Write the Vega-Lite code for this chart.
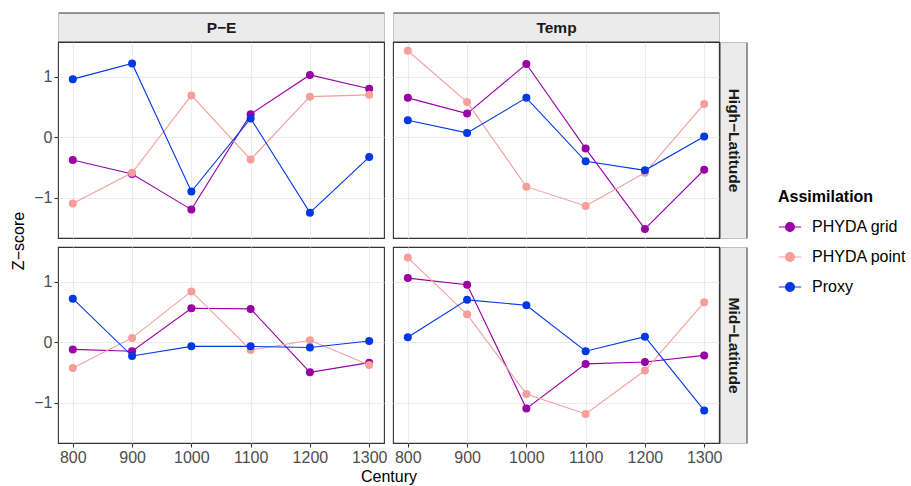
{
  "$schema": "https://vega.github.io/schema/vega-lite/v6.json",
  "padding": {"left": 10, "top": 19, "right": 5, "bottom": 0},
  "background": "white",
  "datasets": {
    "zs": [
      {"variable": "PE", "region": "High", "century": 800, "assimilation": "PHYDA grid", "z": -0.38},
      {"variable": "PE", "region": "High", "century": 900, "assimilation": "PHYDA grid", "z": -0.61},
      {"variable": "PE", "region": "High", "century": 1000, "assimilation": "PHYDA grid", "z": -1.2},
      {"variable": "PE", "region": "High", "century": 1100, "assimilation": "PHYDA grid", "z": 0.38},
      {"variable": "PE", "region": "High", "century": 1200, "assimilation": "PHYDA grid", "z": 1.03},
      {"variable": "PE", "region": "High", "century": 1300, "assimilation": "PHYDA grid", "z": 0.8},
      {"variable": "PE", "region": "High", "century": 800, "assimilation": "PHYDA point", "z": -1.1},
      {"variable": "PE", "region": "High", "century": 900, "assimilation": "PHYDA point", "z": -0.59},
      {"variable": "PE", "region": "High", "century": 1000, "assimilation": "PHYDA point", "z": 0.69},
      {"variable": "PE", "region": "High", "century": 1100, "assimilation": "PHYDA point", "z": -0.37},
      {"variable": "PE", "region": "High", "century": 1200, "assimilation": "PHYDA point", "z": 0.67},
      {"variable": "PE", "region": "High", "century": 1300, "assimilation": "PHYDA point", "z": 0.7},
      {"variable": "PE", "region": "High", "century": 800, "assimilation": "Proxy", "z": 0.96},
      {"variable": "PE", "region": "High", "century": 900, "assimilation": "Proxy", "z": 1.22},
      {"variable": "PE", "region": "High", "century": 1000, "assimilation": "Proxy", "z": -0.9},
      {"variable": "PE", "region": "High", "century": 1100, "assimilation": "Proxy", "z": 0.31},
      {"variable": "PE", "region": "High", "century": 1200, "assimilation": "Proxy", "z": -1.25},
      {"variable": "PE", "region": "High", "century": 1300, "assimilation": "Proxy", "z": -0.33},
      {"variable": "Temp", "region": "High", "century": 800, "assimilation": "PHYDA grid", "z": 0.65},
      {"variable": "Temp", "region": "High", "century": 900, "assimilation": "PHYDA grid", "z": 0.39},
      {"variable": "Temp", "region": "High", "century": 1000, "assimilation": "PHYDA grid", "z": 1.21},
      {"variable": "Temp", "region": "High", "century": 1100, "assimilation": "PHYDA grid", "z": -0.19},
      {"variable": "Temp", "region": "High", "century": 1200, "assimilation": "PHYDA grid", "z": -1.52},
      {"variable": "Temp", "region": "High", "century": 1300, "assimilation": "PHYDA grid", "z": -0.54},
      {"variable": "Temp", "region": "High", "century": 800, "assimilation": "PHYDA point", "z": 1.43},
      {"variable": "Temp", "region": "High", "century": 900, "assimilation": "PHYDA point", "z": 0.58},
      {"variable": "Temp", "region": "High", "century": 1000, "assimilation": "PHYDA point", "z": -0.82},
      {"variable": "Temp", "region": "High", "century": 1100, "assimilation": "PHYDA point", "z": -1.14},
      {"variable": "Temp", "region": "High", "century": 1200, "assimilation": "PHYDA point", "z": -0.59},
      {"variable": "Temp", "region": "High", "century": 1300, "assimilation": "PHYDA point", "z": 0.55},
      {"variable": "Temp", "region": "High", "century": 800, "assimilation": "Proxy", "z": 0.28},
      {"variable": "Temp", "region": "High", "century": 900, "assimilation": "Proxy", "z": 0.07},
      {"variable": "Temp", "region": "High", "century": 1000, "assimilation": "Proxy", "z": 0.65},
      {"variable": "Temp", "region": "High", "century": 1100, "assimilation": "Proxy", "z": -0.4},
      {"variable": "Temp", "region": "High", "century": 1200, "assimilation": "Proxy", "z": -0.55},
      {"variable": "Temp", "region": "High", "century": 1300, "assimilation": "Proxy", "z": 0.01},
      {"variable": "PE", "region": "Mid", "century": 800, "assimilation": "PHYDA grid", "z": -0.12},
      {"variable": "PE", "region": "Mid", "century": 900, "assimilation": "PHYDA grid", "z": -0.15},
      {"variable": "PE", "region": "Mid", "century": 1000, "assimilation": "PHYDA grid", "z": 0.56},
      {"variable": "PE", "region": "Mid", "century": 1100, "assimilation": "PHYDA grid", "z": 0.55},
      {"variable": "PE", "region": "Mid", "century": 1200, "assimilation": "PHYDA grid", "z": -0.5},
      {"variable": "PE", "region": "Mid", "century": 1300, "assimilation": "PHYDA grid", "z": -0.34},
      {"variable": "PE", "region": "Mid", "century": 800, "assimilation": "PHYDA point", "z": -0.43},
      {"variable": "PE", "region": "Mid", "century": 900, "assimilation": "PHYDA point", "z": 0.07},
      {"variable": "PE", "region": "Mid", "century": 1000, "assimilation": "PHYDA point", "z": 0.84},
      {"variable": "PE", "region": "Mid", "century": 1100, "assimilation": "PHYDA point", "z": -0.13},
      {"variable": "PE", "region": "Mid", "century": 1200, "assimilation": "PHYDA point", "z": 0.03},
      {"variable": "PE", "region": "Mid", "century": 1300, "assimilation": "PHYDA point", "z": -0.38},
      {"variable": "PE", "region": "Mid", "century": 800, "assimilation": "Proxy", "z": 0.72},
      {"variable": "PE", "region": "Mid", "century": 900, "assimilation": "Proxy", "z": -0.23},
      {"variable": "PE", "region": "Mid", "century": 1000, "assimilation": "Proxy", "z": -0.07},
      {"variable": "PE", "region": "Mid", "century": 1100, "assimilation": "Proxy", "z": -0.07},
      {"variable": "PE", "region": "Mid", "century": 1200, "assimilation": "Proxy", "z": -0.09},
      {"variable": "PE", "region": "Mid", "century": 1300, "assimilation": "Proxy", "z": 0.02},
      {"variable": "Temp", "region": "Mid", "century": 800, "assimilation": "PHYDA grid", "z": 1.06},
      {"variable": "Temp", "region": "Mid", "century": 900, "assimilation": "PHYDA grid", "z": 0.95},
      {"variable": "Temp", "region": "Mid", "century": 1000, "assimilation": "PHYDA grid", "z": -1.1},
      {"variable": "Temp", "region": "Mid", "century": 1100, "assimilation": "PHYDA grid", "z": -0.36},
      {"variable": "Temp", "region": "Mid", "century": 1200, "assimilation": "PHYDA grid", "z": -0.33},
      {"variable": "Temp", "region": "Mid", "century": 1300, "assimilation": "PHYDA grid", "z": -0.22},
      {"variable": "Temp", "region": "Mid", "century": 800, "assimilation": "PHYDA point", "z": 1.4},
      {"variable": "Temp", "region": "Mid", "century": 900, "assimilation": "PHYDA point", "z": 0.46},
      {"variable": "Temp", "region": "Mid", "century": 1000, "assimilation": "PHYDA point", "z": -0.86},
      {"variable": "Temp", "region": "Mid", "century": 1100, "assimilation": "PHYDA point", "z": -1.19},
      {"variable": "Temp", "region": "Mid", "century": 1200, "assimilation": "PHYDA point", "z": -0.47},
      {"variable": "Temp", "region": "Mid", "century": 1300, "assimilation": "PHYDA point", "z": 0.66},
      {"variable": "Temp", "region": "Mid", "century": 800, "assimilation": "Proxy", "z": 0.08},
      {"variable": "Temp", "region": "Mid", "century": 900, "assimilation": "Proxy", "z": 0.7},
      {"variable": "Temp", "region": "Mid", "century": 1000, "assimilation": "Proxy", "z": 0.61},
      {"variable": "Temp", "region": "Mid", "century": 1100, "assimilation": "Proxy", "z": -0.15},
      {"variable": "Temp", "region": "Mid", "century": 1200, "assimilation": "Proxy", "z": 0.09},
      {"variable": "Temp", "region": "Mid", "century": 1300, "assimilation": "Proxy", "z": -1.13}
    ]
  },
  "config": {
    "font": "Liberation Sans",
    "view": {"stroke": "#333333", "strokeWidth": 1.1, "fill": "white"},
    "range": {"category": ["#9900A6", "#F59E9C", "#0038E6"]},
    "axis": {
      "domain": false,
      "gridColor": "#EBEBEB",
      "tickColor": "#333333",
      "tickSize": 4,
      "tickWidth": 1.1,
      "labelColor": "#4D4D4D",
      "labelFontSize": 16,
      "labelPadding": 2,
      "titleFontSize": 16,
      "titleColor": "#000000",
      "titleFontWeight": "normal"
    },
    "legend": {
      "orient": "none",
      "legendX": 720,
      "legendY": 147,
      "padding": 0,
      "titleFontSize": 16,
      "titleFontWeight": "bold",
      "titleColor": "#000000",
      "titlePadding": 10,
      "labelFontSize": 16,
      "labelColor": "#000000",
      "labelOffset": 10,
      "symbolType": "M-1,0H1M-0.4,0A0.4,0.4,0,1,0,0.4,0A0.4,0.4,0,1,0,-0.4,0Z",
      "symbolSize": 500,
      "symbolStrokeWidth": 1.1,
      "rowPadding": 10
    }
  },
  "bounds": "flush",
  "columns": 2,
  "spacing": {"row": 9, "column": 9},
  "concat": [
    {
      "width": 326, "height": 196,
      "data": {"name": "zs"},
      "transform": [{"filter": "datum.variable == 'PE' && datum.region == 'High'"}],
      "encoding": {"color": {"field": "assimilation", "type": "nominal", "title": "Assimilation"}},
      "layer": [
        {
          "mark": {"type": "line", "strokeWidth": 1.1},
          "encoding": {
            "x": {"field": "century", "type": "quantitative", "scale": {"domain": [775, 1325], "nice": false, "zero": false}, "axis": {"orient": "top", "values": [800, 900, 1000, 1100, 1200, 1300], "gridWidth": 1.1, "labels": false, "ticks": false, "domain": true, "domainColor": "#333333", "domainWidth": 30, "offset": 15, "title": null}},
            "y": {"field": "z", "type": "quantitative", "scale": {"domain": [-1.67, 1.575], "nice": false, "zero": false}, "axis": {"orient": "left", "values": [-1, 0, 1], "gridWidth": 1.1, "title": "Z−score", "titleY": 198.5, "titlePadding": 7}}
          }
        },
        {
          "mark": {"type": "point", "filled": true, "size": 64, "opacity": 1},
          "encoding": {
            "x": {"field": "century", "type": "quantitative", "scale": {"domain": [775, 1325], "nice": false, "zero": false}, "axis": {"orient": "top", "values": [850, 950, 1050, 1150, 1250], "gridWidth": 0.55, "labels": false, "ticks": false, "domain": true, "domainColor": "#EBEBEB", "domainWidth": 28, "offset": 15, "title": "P−E", "titleY": 0, "titleBaseline": "middle", "titlePadding": 0, "titleFontWeight": "bold", "titleFontSize": 15.5, "titleColor": "#1A1A1A"}},
            "y": {"field": "z", "type": "quantitative", "scale": {"domain": [-1.67, 1.575], "nice": false, "zero": false}, "axis": {"orient": "left", "values": [-1.5, -0.5, 0.5, 1.5], "gridWidth": 0.55, "labels": false, "ticks": false, "title": null}}
          }
        }
      ],
      "resolve": {"axis": {"x": "independent", "y": "independent"}}
    },
    {
      "width": 326, "height": 196,
      "data": {"name": "zs"},
      "transform": [{"filter": "datum.variable == 'Temp' && datum.region == 'High'"}],
      "encoding": {"color": {"field": "assimilation", "type": "nominal", "title": "Assimilation"}},
      "layer": [
        {
          "mark": {"type": "line", "strokeWidth": 1.1},
          "encoding": {
            "x": {"field": "century", "type": "quantitative", "scale": {"domain": [775, 1325], "nice": false, "zero": false}, "axis": {"orient": "top", "values": [800, 900, 1000, 1100, 1200, 1300], "gridWidth": 1.1, "labels": false, "ticks": false, "domain": true, "domainColor": "#333333", "domainWidth": 30, "offset": 15, "title": null}},
            "y": {"field": "z", "type": "quantitative", "scale": {"domain": [-1.67, 1.575], "nice": false, "zero": false}, "axis": {"orient": "right", "values": [-1, 0, 1], "gridWidth": 1.1, "labels": false, "ticks": false, "domain": true, "domainColor": "#333333", "domainWidth": 28, "offset": 14, "title": null}}
          }
        },
        {
          "mark": {"type": "point", "filled": true, "size": 64, "opacity": 1},
          "encoding": {
            "x": {"field": "century", "type": "quantitative", "scale": {"domain": [775, 1325], "nice": false, "zero": false}, "axis": {"orient": "top", "values": [850, 950, 1050, 1150, 1250], "gridWidth": 0.55, "labels": false, "ticks": false, "domain": true, "domainColor": "#EBEBEB", "domainWidth": 28, "offset": 15, "title": "Temp", "titleY": 0, "titleBaseline": "middle", "titlePadding": 0, "titleFontWeight": "bold", "titleFontSize": 15.5, "titleColor": "#1A1A1A"}},
            "y": {"field": "z", "type": "quantitative", "scale": {"domain": [-1.67, 1.575], "nice": false, "zero": false}, "axis": {"orient": "right", "values": [-1.5, -0.5, 0.5, 1.5], "gridWidth": 0.55, "labels": false, "ticks": false, "domain": true, "domainColor": "#EBEBEB", "domainWidth": 26, "offset": 14, "title": "High−Latitude", "titleAngle": 90, "titleX": 0, "titleY": 98, "titleAlign": "center", "titleBaseline": "middle", "titlePadding": 0, "titleFontWeight": "bold", "titleFontSize": 15.5, "titleColor": "#1A1A1A"}}
          }
        }
      ],
      "resolve": {"axis": {"x": "independent", "y": "independent"}}
    },
    {
      "width": 326, "height": 196,
      "data": {"name": "zs"},
      "transform": [{"filter": "datum.variable == 'PE' && datum.region == 'Mid'"}],
      "encoding": {"color": {"field": "assimilation", "type": "nominal", "title": "Assimilation"}},
      "layer": [
        {
          "mark": {"type": "line", "strokeWidth": 1.1},
          "encoding": {
            "x": {"field": "century", "type": "quantitative", "scale": {"domain": [775, 1325], "nice": false, "zero": false}, "axis": {"orient": "bottom", "values": [800, 900, 1000, 1100, 1200, 1300], "gridWidth": 1.1, "format": "d", "title": "Century", "titleX": 330.5, "titlePadding": 3}},
            "y": {"field": "z", "type": "quantitative", "scale": {"domain": [-1.67, 1.575], "nice": false, "zero": false}, "axis": {"orient": "left", "values": [-1, 0, 1], "gridWidth": 1.1, "title": null}}
          }
        },
        {
          "mark": {"type": "point", "filled": true, "size": 64, "opacity": 1},
          "encoding": {
            "x": {"field": "century", "type": "quantitative", "scale": {"domain": [775, 1325], "nice": false, "zero": false}, "axis": {"orient": "bottom", "values": [850, 950, 1050, 1150, 1250], "gridWidth": 0.55, "labels": false, "ticks": false, "title": null}},
            "y": {"field": "z", "type": "quantitative", "scale": {"domain": [-1.67, 1.575], "nice": false, "zero": false}, "axis": {"orient": "left", "values": [-1.5, -0.5, 0.5, 1.5], "gridWidth": 0.55, "labels": false, "ticks": false, "title": null}}
          }
        }
      ],
      "resolve": {"axis": {"x": "independent", "y": "independent"}}
    },
    {
      "width": 326, "height": 196,
      "data": {"name": "zs"},
      "transform": [{"filter": "datum.variable == 'Temp' && datum.region == 'Mid'"}],
      "encoding": {"color": {"field": "assimilation", "type": "nominal", "title": "Assimilation"}},
      "layer": [
        {
          "mark": {"type": "line", "strokeWidth": 1.1},
          "encoding": {
            "x": {"field": "century", "type": "quantitative", "scale": {"domain": [775, 1325], "nice": false, "zero": false}, "axis": {"orient": "bottom", "values": [800, 900, 1000, 1100, 1200, 1300], "gridWidth": 1.1, "format": "d", "title": null}},
            "y": {"field": "z", "type": "quantitative", "scale": {"domain": [-1.67, 1.575], "nice": false, "zero": false}, "axis": {"orient": "right", "values": [-1, 0, 1], "gridWidth": 1.1, "labels": false, "ticks": false, "domain": true, "domainColor": "#333333", "domainWidth": 28, "offset": 14, "title": null}}
          }
        },
        {
          "mark": {"type": "point", "filled": true, "size": 64, "opacity": 1},
          "encoding": {
            "x": {"field": "century", "type": "quantitative", "scale": {"domain": [775, 1325], "nice": false, "zero": false}, "axis": {"orient": "bottom", "values": [850, 950, 1050, 1150, 1250], "gridWidth": 0.55, "labels": false, "ticks": false, "title": null}},
            "y": {"field": "z", "type": "quantitative", "scale": {"domain": [-1.67, 1.575], "nice": false, "zero": false}, "axis": {"orient": "right", "values": [-1.5, -0.5, 0.5, 1.5], "gridWidth": 0.55, "labels": false, "ticks": false, "domain": true, "domainColor": "#EBEBEB", "domainWidth": 26, "offset": 14, "title": "Mid−Latitude", "titleAngle": 90, "titleX": 0, "titleY": 98, "titleAlign": "center", "titleBaseline": "middle", "titlePadding": 0, "titleFontWeight": "bold", "titleFontSize": 15.5, "titleColor": "#1A1A1A"}}
          }
        }
      ],
      "resolve": {"axis": {"x": "independent", "y": "independent"}}
    }
  ]
}
